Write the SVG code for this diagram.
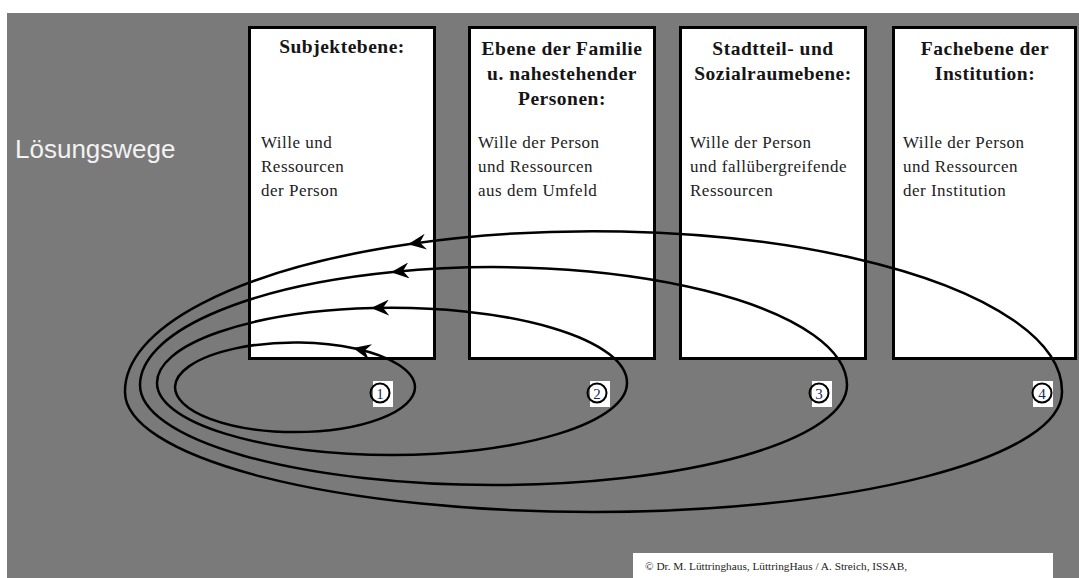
<svg xmlns="http://www.w3.org/2000/svg" width="1079" height="578" viewBox="0 0 1079 578">
<style>
.box{fill:#fff;stroke:#000;stroke-width:3}
.title{font-family:"Liberation Serif",serif;font-weight:bold;font-size:19.5px;letter-spacing:0.5px;fill:#151515;text-anchor:middle}
.body{font-family:"Liberation Serif",serif;font-size:17px;letter-spacing:0.5px;fill:#222}
.loop{fill:none;stroke:#000;stroke-width:2.5;marker-end:url(#arr)}
.numbg{fill:#fff}
.numc{fill:none;stroke:#000;stroke-width:2}
.num{font-family:"Liberation Serif",serif;font-size:15px;fill:#1a2a5a;text-anchor:middle}
</style>
<defs>
<marker id="arr" markerUnits="userSpaceOnUse" markerWidth="18" markerHeight="16" viewBox="0 0 18 16" refX="16" refY="8" orient="auto">
<path d="M0,0 L18,8 L0,16 L6,8 z" fill="#000"/>
</marker>
</defs>
<rect x="0" y="0" width="1079" height="578" fill="#fff"/>
<rect x="7" y="13" width="1072" height="565" fill="#7a7a7a"/>
<text x="15" y="158" font-family="Liberation Sans, Arial, sans-serif" font-size="26" fill="#f2f2f2">Lösungswege</text>

<g id="node1">
<rect class="box" x="249.5" y="27.5" width="185" height="331"/>
<text class="title" x="342" y="53">Subjektebene:</text>
<text class="body" x="261" y="148">Wille und</text>
<text class="body" x="261" y="172">Ressourcen</text>
<text class="body" x="261" y="196">der Person</text>
</g>
<g id="node2">
<rect class="box" x="469.5" y="27.5" width="185" height="331"/>
<text class="title" x="562" y="55">Ebene der Familie</text>
<text class="title" x="562" y="80">u. nahestehender</text>
<text class="title" x="562" y="105">Personen:</text>
<text class="body" x="478" y="148">Wille der Person</text>
<text class="body" x="478" y="172">und Ressourcen</text>
<text class="body" x="478" y="196">aus dem Umfeld</text>
</g>
<g id="node3">
<rect class="box" x="680.5" y="27.5" width="185" height="331"/>
<text class="title" x="773" y="55">Stadtteil- und</text>
<text class="title" x="773" y="80">Sozialraumebene:</text>
<text class="body" x="690" y="148">Wille der Person</text>
<text class="body" x="690" y="172">und fallübergreifende</text>
<text class="body" x="690" y="196">Ressourcen</text>
</g>
<g id="node4">
<rect class="box" x="893.5" y="27.5" width="182" height="331"/>
<text class="title" x="985" y="55">Fachebene der</text>
<text class="title" x="985" y="80">Institution:</text>
<text class="body" x="903" y="148">Wille der Person</text>
<text class="body" x="903" y="172">und Ressourcen</text>
<text class="body" x="903" y="196">der Institution</text>
</g>

<g id="connectors">
<path class="loop" d="M355,348.5 A120,45 0 0 0 175,387 A120,45 0 0 0 415,387 A120,45 0 0 0 355,348.5"/>
<path class="loop" d="M373,308 A235,75 0 0 0 157,383 A235,72 0 0 0 627,383 A235,75 0 0 0 373,308"/>
<path class="loop" d="M393,272 A353.5,118 0 0 0 140,385 A353.5,100 0 0 0 847,385 A353.5,118 0 0 0 393,272"/>
<path class="loop" d="M410,244 A468.5,160 0 0 0 125,392 A468.5,120 0 0 0 1062,392 A468.5,160 0 0 0 410,244"/>
</g>

<g id="num1">
<rect class="numbg" x="373" y="381" width="20" height="26"/>
<circle class="numc" cx="380" cy="393" r="9.5"/>
<text class="num" x="380" y="398.5">1</text>
</g>
<g id="num2">
<rect class="numbg" x="590" y="381" width="20" height="26"/>
<circle class="numc" cx="597" cy="393" r="9.5"/>
<text class="num" x="597" y="398.5">2</text>
</g>
<g id="num3">
<rect class="numbg" x="812" y="381" width="20" height="26"/>
<circle class="numc" cx="819" cy="393" r="9.5"/>
<text class="num" x="819" y="398.5">3</text>
</g>
<g id="num4">
<rect class="numbg" x="1033" y="381" width="20" height="26"/>
<circle class="numc" cx="1042" cy="393" r="9.5"/>
<text class="num" x="1042" y="398.5">4</text>
</g>

<g id="copyright">
<rect x="633" y="553" width="420" height="25" fill="#fff"/>
<text x="645" y="570" font-family="Liberation Serif, serif" font-size="11.3" fill="#222">© Dr. M. Lüttringhaus, LüttringHaus / A. Streich, ISSAB,</text>
</g>
</svg>
